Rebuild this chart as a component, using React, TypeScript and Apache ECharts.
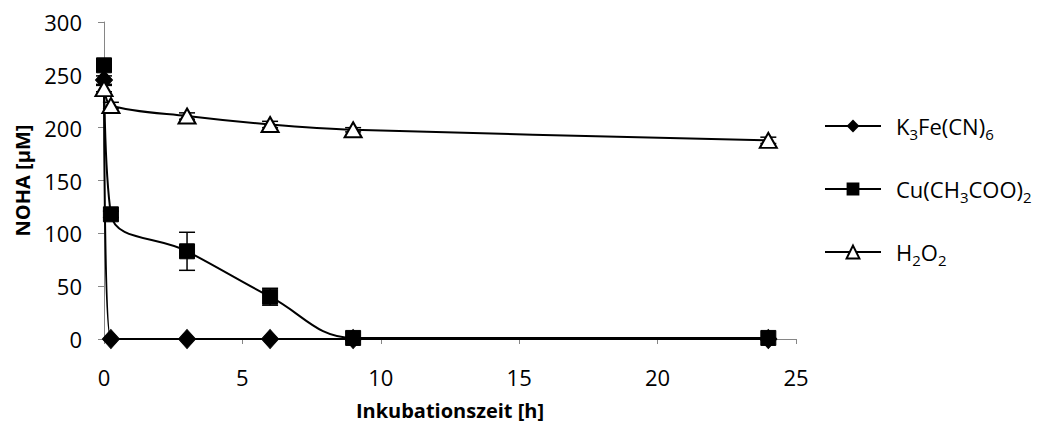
import React, { useEffect, useRef } from "react";
import * as echarts from "echarts";

const seriesNames = ["K3Fe(CN)6", "Cu(CH3COO)2", "H2O2"];
const times = [0, 0.25, 3, 6, 9, 24];
const k3fe = [245, 0, 0, 0, 0, 0];
const cuAc = [259, 118, 83, 40, 1, 1];
const h2o2 = [237, 221, 211, 203, 198, 188];
const k3feErr = [4, 0, 0, 0, 0, 0];
const cuAcErr = [4, 3, 18, 8, 0, 0];
const h2o2Err = [3, 3, 3, 3, 2, 3];
const xTicks = [0, 5, 10, 15, 20, 25];
const yTicks = [0, 50, 100, 150, 200, 250, 300];

const FONT = "Open Sans";

const legendRich: Record<string, string> = {
  "K3Fe(CN)6": "{n|K}{s|3}{n|Fe(CN)}{s|6}",
  "Cu(CH3COO)2": "{n|Cu(CH}{s|3}{n|COO)}{s|2}",
  H2O2: "{n|H}{s|2}{n|O}{s|2}",
};

function pairs(vals: number[]) {
  return times.map((t, i) => [t, vals[i]]);
}

function errData(vals: number[], errs: number[]) {
  return times
    .map((t, i) => [t, vals[i] - errs[i], vals[i] + errs[i]])
    .filter((d, i) => errs[i] > 0);
}

function errSeries(vals: number[], errs: number[]) {
  return {
    type: "custom",
    data: errData(vals, errs),
    z: 1,
    silent: true,
    renderItem: (params: any, api: any) => {
      const x = api.value(0);
      const lo = api.coord([x, api.value(1)]);
      const hi = api.coord([x, api.value(2)]);
      const hw = 8;
      const style = { stroke: "#000", lineWidth: 1.5 };
      return {
        type: "group",
        children: [
          { type: "line", shape: { x1: lo[0], y1: lo[1], x2: hi[0], y2: hi[1] }, style },
          { type: "line", shape: { x1: lo[0] - hw, y1: lo[1], x2: lo[0] + hw, y2: lo[1] }, style },
          { type: "line", shape: { x1: hi[0] - hw, y1: hi[1], x2: hi[0] + hw, y2: hi[1] }, style },
        ],
      };
    },
  };
}

export default function App() {
  const ref = useRef<HTMLDivElement>(null);
  useEffect(() => {
    if (!ref.current) return;
    const chart = echarts.init(ref.current, null, { renderer: "svg" });
    const lineStyle = { color: "#000", width: 2 };
    chart.setOption({
      animation: false,
      backgroundColor: "#fff",
      textStyle: { fontFamily: FONT },
      grid: { left: 104, right: 246, top: 22, bottom: 89, containLabel: false, outerBoundsMode: "none" },
      legend: {
        orient: "vertical",
        left: 819,
        top: 110,
        itemWidth: 56,
        itemHeight: 16,
        itemGap: 37,
        data: seriesNames,
        formatter: (name: string) => legendRich[name] || name,
        textStyle: {
          fontFamily: FONT,
          color: "#000",
          padding: [0, 0, 0, 10],
          rich: {
            n: { fontSize: 22, fontFamily: FONT, color: "#000", lineHeight: 30, verticalAlign: "middle" },
            s: { fontSize: 15, fontFamily: FONT, color: "#000", lineHeight: 30, verticalAlign: "bottom" },
          },
        },
      },
      xAxis: {
        type: "value",
        min: 0,
        max: 25,
        interval: 5,
        name: "Inkubationszeit [h]",
        nameLocation: "middle",
        nameGap: 61,
        nameTextStyle: { fontFamily: FONT, fontSize: 20, fontWeight: "bold", color: "#000" },
        axisLine: { show: true, onZero: false, lineStyle: { color: "#868686", width: 1 } },
        axisTick: { show: true, length: 5, lineStyle: { color: "#868686" } },
        axisLabel: {
          fontFamily: FONT,
          fontSize: 22,
          color: "#000",
          margin: 27,
          formatter: (v: number) => (xTicks.includes(v) ? String(v) : ""),
        },
        splitLine: { show: false },
      },
      yAxis: {
        type: "value",
        min: 0,
        max: 300,
        interval: 50,
        name: "NOHA [µM]",
        nameLocation: "middle",
        nameGap: 72,
        nameRotate: 90,
        nameTextStyle: { fontFamily: FONT, fontSize: 20, fontWeight: "bold", color: "#000" },
        axisLine: { show: true, lineStyle: { color: "#868686", width: 1 } },
        axisTick: { show: true, length: 6, lineStyle: { color: "#868686" } },
        axisLabel: {
          fontFamily: FONT,
          fontSize: 22,
          color: "#000",
          margin: 22,
          formatter: (v: number) => (yTicks.includes(v) ? String(v) : ""),
        },
        splitLine: { show: false },
      },
      series: [
        errSeries(k3fe, k3feErr),
        errSeries(cuAc, cuAcErr),
        errSeries(h2o2, h2o2Err),
        {
          name: seriesNames[0],
          type: "line",
          data: pairs(k3fe),
          smooth: 0.3,
          clip: false,
          z: 3,
          symbol: "diamond",
          symbolSize: [17, 19],
          lineStyle,
          itemStyle: { color: "#000", borderColor: "#000" },
        },
        {
          name: seriesNames[1],
          type: "line",
          data: pairs(cuAc),
          smooth: 0.4,
          clip: false,
          z: 3,
          symbol: "rect",
          symbolSize: 15,
          lineStyle,
          itemStyle: { color: "#000", borderColor: "#000" },
        },
        {
          name: seriesNames[2],
          type: "line",
          data: pairs(h2o2),
          smooth: 0.3,
          clip: false,
          z: 4,
          symbol: "triangle",
          symbolSize: [17, 15],
          lineStyle,
          itemStyle: { color: "#fff", borderColor: "#000", borderWidth: 2 },
        },
      ],
    });
    return () => chart.dispose();
  }, []);
  return (
    <div
      ref={ref}
      style={{ position: "absolute", left: 0, top: 0, width: 1042, height: 428 }}
    />
  );
}
